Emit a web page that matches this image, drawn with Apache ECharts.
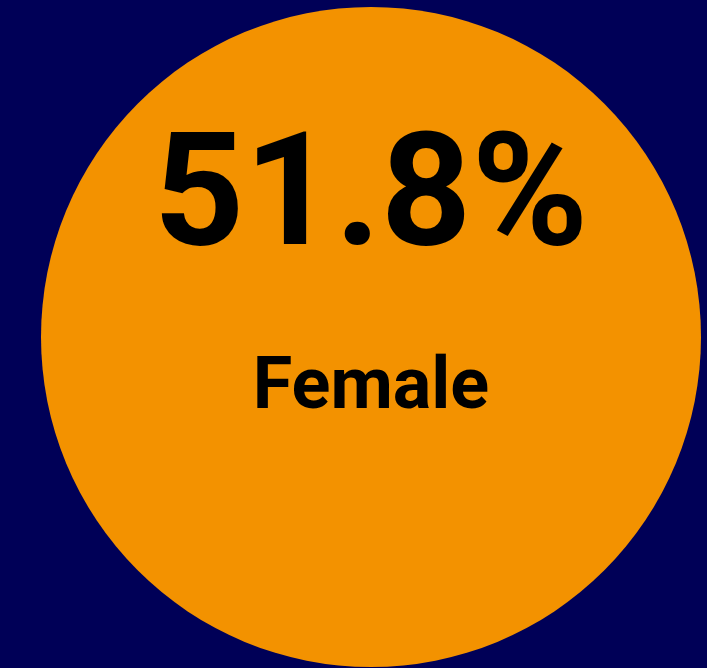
<!DOCTYPE html>
<html>
<head>
<meta charset="utf-8">
<style>html,body{margin:0;padding:0;background:#000057;}#c{width:707px;height:668px;}</style>
<script src="https://cdn.jsdelivr.net/npm/echarts@6/dist/echarts.min.js"></script>
</head>
<body>
<div id="c"></div>
<script>
const categories = ['Female'];
const shareValues = [51.8];

const chart = echarts.init(document.getElementById('c'), null, {renderer: 'canvas'});
chart.setOption({
  backgroundColor: '#000057',
  animation: false,
  series: [{
    type: 'pie',
    silent: true,
    center: [371, 337],
    radius: [0, 330],
    itemStyle: {color: '#f39200'},
    labelLine: {show: false},
    label: {
      show: true,
      position: 'center',
      offset: [0, -83],
      formatter: p => '{v|' + p.value.toFixed(1) + '%}\n{n|' + p.name + '}',
      rich: {
        v: {fontFamily: 'Roboto', fontWeight: 'bold', fontSize: 158, lineHeight: 272, color: '#000'},
        n: {fontFamily: 'Roboto', fontWeight: 'bold', fontSize: 72, lineHeight: 100, color: '#000'}
      }
    },
    data: categories.map((c, i) => ({name: c, value: shareValues[i]}))
  }]
});
</script>
</body>
</html>
